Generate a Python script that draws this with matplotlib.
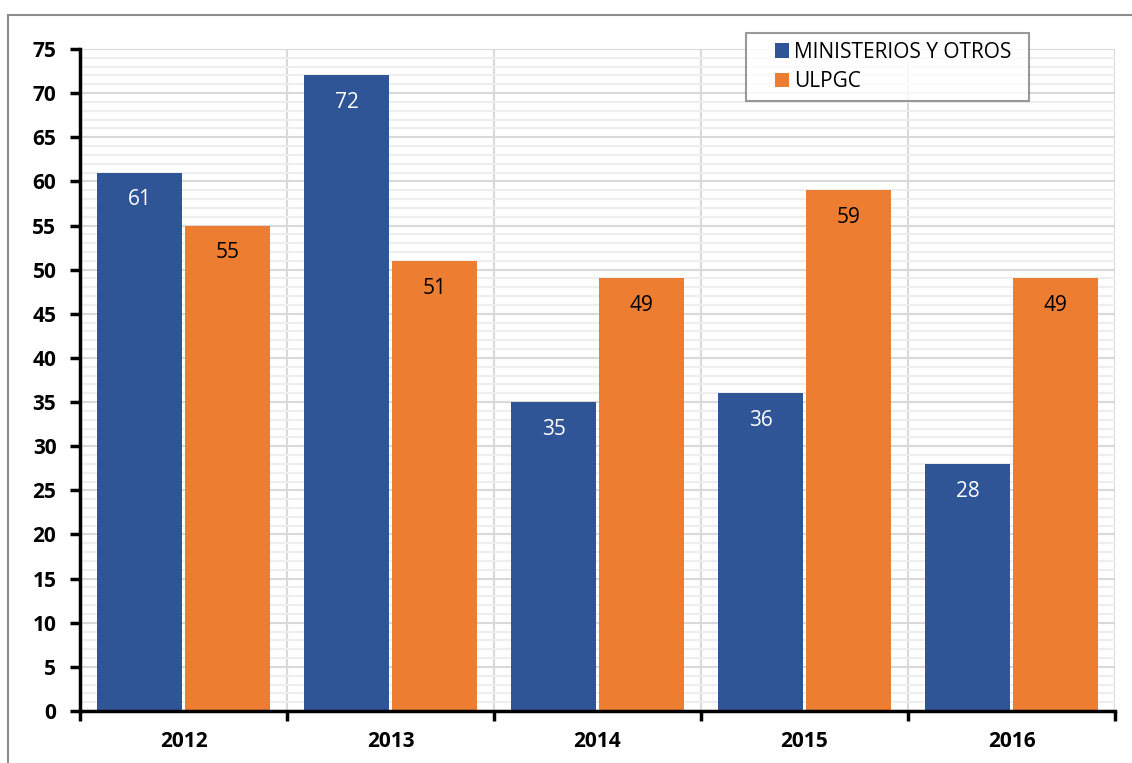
import matplotlib
matplotlib.use("Agg")
import matplotlib.pyplot as plt
from matplotlib.patches import Rectangle
from matplotlib.container import BarContainer
from matplotlib.legend_handler import HandlerPatch, update_from_first_child
from matplotlib.ticker import MultipleLocator, FixedLocator
import numpy as np

plt.rcParams['font.family'] = ['Open Sans', 'DejaVu Sans']

years = ["2012", "2013", "2014", "2015", "2016"]
ministerios = [61, 72, 35, 36, 28]
ulpgc = [55, 51, 49, 59, 49]
series_names = ["MINISTERIOS Y OTROS", "ULPGC"]
colors = ["#2f5597", "#ed7d31"]
y_ticks = list(range(0, 80, 5))

FS = 15

fig = plt.figure(figsize=(11.32, 7.63), dpi=100)
ax = fig.add_axes([80 / 1132, 1 - 711 / 763, (1115 - 80) / 1132, (711 - 49) / 763])

x = np.arange(len(years))
w = 0.406
off = 0.2125
b1 = ax.bar(x - off, ministerios, w, color=colors[0], label=series_names[0], zorder=3)
b2 = ax.bar(x + off, ulpgc, w, color=colors[1], label=series_names[1], zorder=3)

for rect, v in zip(b1, ministerios):
    ax.text(rect.get_x() + rect.get_width() / 2, v - 3.1, str(v), ha='center', va='center',
            color='white', fontsize=FS, zorder=4)
for rect, v in zip(b2, ulpgc):
    ax.text(rect.get_x() + rect.get_width() / 2, v - 3.1, str(v), ha='center', va='center',
            color='black', fontsize=FS, zorder=4)

ax.set_xlim(-0.5, len(years) - 0.5)
ax.set_ylim(0, 75)

# y axis: labelled every 5, light minor grid every 1
ax.yaxis.set_major_locator(FixedLocator(y_ticks))
ax.yaxis.set_minor_locator(MultipleLocator(1))
ax.set_yticklabels([str(t) for t in y_ticks], fontsize=FS, fontweight='bold')
ax.grid(which='minor', axis='y', color='#eeeeee', linewidth=1.5, zorder=0)
ax.grid(which='major', axis='y', color='#d9d9d9', linewidth=1.5, zorder=1)
ax.tick_params(axis='y', which='major', direction='out', length=7, width=2.5, pad=10)
ax.tick_params(axis='y', which='minor', length=0)

# x axis: ticks at category boundaries, labels centred under groups
bounds = np.arange(-0.5, len(years), 1.0)
ax.set_xticks(bounds)
ax.set_xticklabels([])
ax.set_xticks(x, minor=True)
ax.set_xticklabels(years, minor=True, fontsize=FS, fontweight='bold')
ax.tick_params(axis='x', which='major', direction='out', length=7, width=2.5)
ax.tick_params(axis='x', which='minor', length=0, pad=14.5)
for b in bounds:
    ax.axvline(b, color='#d9d9d9', linewidth=1.5, zorder=1)

for s in ['top', 'right']:
    ax.spines[s].set_visible(False)
for s in ['left', 'bottom']:
    ax.spines[s].set_linewidth(2.5)
    ax.spines[s].set_zorder(5)


def square_handle(legend, orig_handle, xdescent, ydescent, width, height, fontsize):
    side = height
    return Rectangle((-xdescent + width - side, -ydescent), side, side)


leg = ax.legend(loc='upper left', mode='expand',
                bbox_to_anchor=((746 - 80) / 1035, 1 + 16 / 662, 283 / 1035, 0),
                fontsize=FS, frameon=True, fancybox=False, edgecolor='#808080',
                handlelength=1.65, handleheight=0.68, handletextpad=0.25,
                borderpad=0.42, labelspacing=0.4, borderaxespad=0,
                handler_map={BarContainer: HandlerPatch(patch_func=square_handle,
                                                        update_func=update_from_first_child)})
leg.get_frame().set_linewidth(1.5)
leg.set_zorder(6)

# outer chart border
fig.patches.append(Rectangle((8 / 1132, -0.01), 1.1, 1 - 15 / 763 + 0.01,
                             transform=fig.transFigure, fill=False,
                             edgecolor='#8c8c8c', linewidth=1.5))

fig.savefig("out.png", dpi=100)
